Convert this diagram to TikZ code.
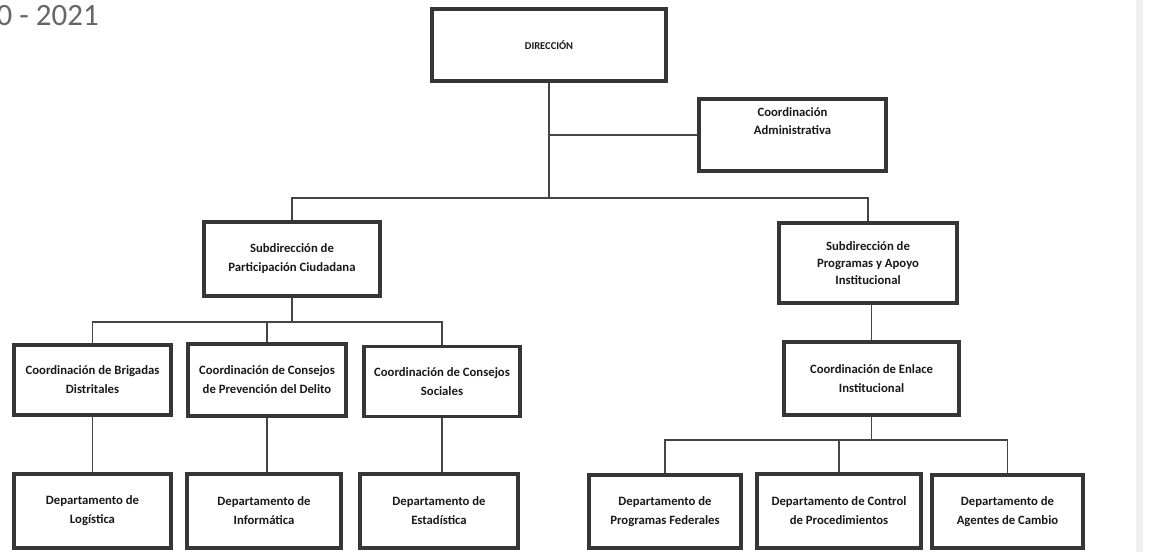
\documentclass[tikz,border=0pt]{standalone}
\usepackage{fontspec}
\setmainfont{Carlito}
\usetikzlibrary{calc}
\definecolor{boxline}{HTML}{363636}
\definecolor{connline}{HTML}{454545}
\definecolor{yeargray}{HTML}{666666}
\tikzset{
  orgbox/.style={draw=boxline, line width=3.6pt, fill=white, inner sep=0pt,
    align=center, font=\fontsize{12.7}{19}\selectfont\bfseries, text=black!90},
  conn/.style={draw=connline, line width=1.6pt},
}
\begin{document}
\begin{tikzpicture}[x=1pt,y=-1pt]
\useasboundingbox (0,0) rectangle (1157,552);
\clip (0,0) rectangle (1157,552);
\fill[white] (0,0) rectangle (1157,552);
% faint scan band on the right
\fill[black!6] (1136,0) rectangle (1143,552);
% year heading (cut at the left edge, as in the reference)
\node[anchor=east, text=yeargray, font=\fontsize{31}{33}\selectfont, inner sep=0pt] (year) at (99,16) {2020 - 2021};

% boxes
\node[orgbox, minimum width=234pt, minimum height=72pt, font=\fontsize{10.5}{17}\selectfont\bfseries] (dir) at (549,45) {DIRECCIÓN};
\node[orgbox, minimum width=187pt, minimum height=72pt] (adm) at (792.5,135) {\raisebox{10pt}[0pt][0pt]{\begin{tabular}{@{}c@{}}Coordinación\\[-1pt]Administrativa\end{tabular}}};
\node[orgbox, minimum width=176pt, minimum height=74pt] (subp) at (292,259) {Subdirección de\\Participación Ciudadana};
\node[orgbox, minimum width=178pt, minimum height=80pt, font=\fontsize{12.7}{17}\selectfont\bfseries] (subr) at (868,263) {Subdirección de\\Programas y Apoyo\\Institucional};

\node[orgbox, minimum width=157pt, minimum height=70pt] (c1) at (92.5,380) {Coordinación de Brigadas\\Distritales};
\node[orgbox, minimum width=158pt, minimum height=72pt] (c2) at (267,380) {Coordinación de Consejos\\de Prevención del Delito};
\node[orgbox, minimum width=156pt, minimum height=70pt] (c3) at (442,381.5) {Coordinación de Consejos\\Sociales};
\node[orgbox, minimum width=175pt, minimum height=73pt] (enl) at (871.5,378.5) {Coordinación de Enlace\\Institucional};

\node[orgbox, minimum width=157pt, minimum height=74pt] (d1) at (92.5,511) {Departamento de\\Logística};
\node[orgbox, minimum width=154pt, minimum height=74pt] (d2) at (264,511) {Departamento de\\Informática};
\node[orgbox, minimum width=158pt, minimum height=74pt] (d3) at (439,511) {Departamento de\\Estadística};
\node[orgbox, minimum width=152pt, minimum height=73pt] (d4) at (665,511.5) {Departamento de\\Programas Federales};
\node[orgbox, minimum width=164pt, minimum height=74pt] (d5) at (839,511) {Departamento de Control\\de Procedimientos};
\node[orgbox, minimum width=151pt, minimum height=73pt] (d6) at (1007.5,511.5) {Departamento de\\Agentes de Cambio};

% bus coordinates
\coordinate (bus) at (0,198);
\coordinate (busL) at (0,322);
\coordinate (busR) at (0,440);

% connectors
\draw[conn] (dir.south) -- (dir.south |- bus);
\draw[conn] (dir.south |- adm.west) -- (adm.west);
\draw[conn] (subp.north) -- (subp.north |- bus) -- (subr.north |- bus) -- (subr.north);

\draw[conn] (subp.south) -- (subp.south |- busL);
\draw[conn] (c1.north) -- (c1.north |- busL) -- (c3.north |- busL) -- (c3.north);
\draw[conn] (c2.north) -- (c2.north |- busL);

\draw[conn] (c1.south) -- (c1.south |- d1.north);
\draw[conn] (c2.south) -- (c2.south |- d2.north);
\draw[conn] (c3.south) -- (c3.south |- d3.north);

\draw[conn] (enl.north |- subr.south) -- (enl.north);
\draw[conn] (enl.south) -- (enl.south |- busR);
\draw[conn] (d4.north) -- (d4.north |- busR) -- (d6.north |- busR) -- (d6.north);
\draw[conn] (d5.north) -- (d5.north |- busR);
\end{tikzpicture}
\end{document}
